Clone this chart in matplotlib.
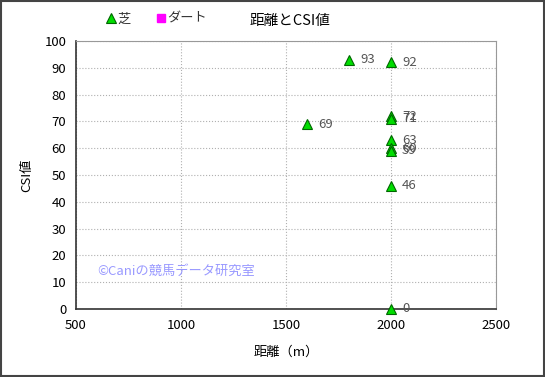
import numpy as np
import matplotlib.pyplot as plt
from matplotlib.patches import Rectangle

plt.rcParams['font.family'] = ['Noto Sans CJK JP', 'DejaVu Sans']

# 芝のデータ (距離, CSI値)
turf_dist = [1800, 2000, 1600, 2000, 2000, 2000, 2000, 2000, 2000, 2000]
turf_csi = [93, 92, 69, 72, 71, 63, 60, 59, 46, 0]
# ダートのデータ (なし)
dirt_dist = []
dirt_csi = []

x_ticks = [500, 1000, 1500, 2000, 2500]
y_ticks = list(range(0, 101, 10))

fig = plt.figure(figsize=(5.45, 3.77), dpi=100)
ax = fig.add_axes([76 / 545, 68 / 377, 420 / 545, 268 / 377])

h_turf, = ax.plot(turf_dist, turf_csi, linestyle='none', marker='^', markersize=6.5,
                  color='#00dd00', markeredgecolor='#006600', markeredgewidth=0.8,
                  label='芝', clip_on=False, zorder=3)
h_dirt, = ax.plot(dirt_dist, dirt_csi, linestyle='none', marker='s', markersize=6,
                  color='#ff00ff', markeredgecolor='#ff00ff', label='ダート')

for xv, yv in zip(turf_dist, turf_csi):
    ax.annotate(str(yv), (xv, yv), xytext=(8, 0), textcoords='offset points',
                va='center', ha='left', fontsize=9.5, color='#555555')

ax.set_xlim(500, 2500)
ax.set_ylim(0, 100)
ax.set_xticks(x_ticks)
ax.set_yticks(y_ticks)
ax.tick_params(length=0, labelsize=9.5, pad=7)
ax.grid(True, color='#b0b0b0', linestyle=':', linewidth=0.8)
for s in ax.spines.values():
    s.set_color('#999999')
    s.set_linewidth(0.8)
ax.spines['left'].set_color('#333333')
ax.spines['bottom'].set_color('#333333')
ax.spines['left'].set_linewidth(1.2)
ax.spines['bottom'].set_linewidth(1.2)

ax.set_xlabel('距離（m）', fontsize=9.5, labelpad=10)
ax.set_ylabel('CSI値', fontsize=9.5, labelpad=8)

ax.text(0.05, 0.14, '©Caniの競馬データ研究室', transform=ax.transAxes,
        fontsize=9.5, color='#9999ff', va='center')

fig.text(290 / 545, 1 - 21 / 377, '距離とCSI値', ha='center', va='center', fontsize=10.5)
fig.legend(handles=[h_turf, h_dirt], loc='center left',
           bbox_to_anchor=(95 / 545, 1 - 19 / 377), ncol=2, frameon=False,
           fontsize=9.5, handlelength=0.6, handletextpad=0.2, columnspacing=2.0,
           labelcolor='#333333')

fig.patches.append(Rectangle((0.002, 0.003), 0.996, 0.994, transform=fig.transFigure,
                             fill=False, edgecolor='#444444', linewidth=1.5))

fig.savefig('out.png', dpi=100)
